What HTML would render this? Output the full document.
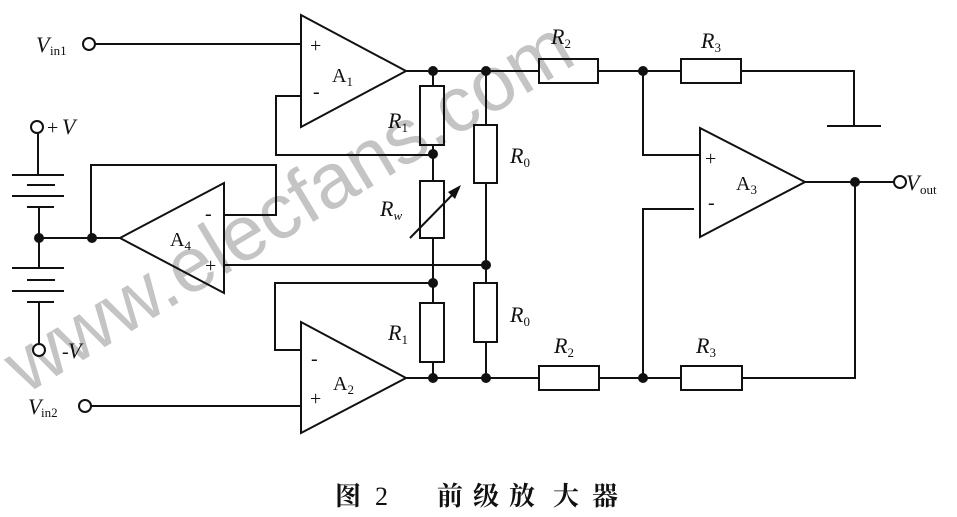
<!DOCTYPE html>
<html><head><meta charset="utf-8"><style>
html,body{margin:0;padding:0;background:#fff;}
svg{display:block;}
.t{font-family:"Liberation Serif",serif;font-style:italic;font-size:22px;fill:#111;}
.s{font-family:"Liberation Serif",serif;font-size:13px;fill:#111;}
.n{font-family:"Liberation Serif",serif;font-size:20px;fill:#111;}
</style></head><body>
<svg width="957" height="517" viewBox="0 0 957 517" xmlns="http://www.w3.org/2000/svg">
<rect width="957" height="517" fill="#fff"/>
<text x="0" y="0" transform="translate(25,395) rotate(-31)" font-family="Liberation Sans,sans-serif" font-size="78" fill="#c4c4c4">www.elecfans.com</text>
<g stroke="#111" stroke-width="2" fill="none">
<!-- A1 -->
<polygon points="301,15 301,127 406,71" fill="none"/>
<line x1="95" y1="44" x2="301" y2="44"/>
<circle cx="89" cy="44" r="6" fill="#fff"/>
<line x1="406" y1="71" x2="539" y2="71"/>
<polyline points="301,96 276,96 276,155 433,155"/>
<line x1="433" y1="71" x2="433" y2="86"/>
<rect x="420" y="86" width="24" height="59"/>
<line x1="433" y1="145" x2="433" y2="181"/>
<rect x="420" y="181" width="24" height="57"/>
<line x1="410" y1="238" x2="459" y2="188"/>
<line x1="433" y1="238" x2="433" y2="303"/>
<rect x="420" y="303" width="24" height="59"/>
<line x1="433" y1="362" x2="433" y2="378"/>
<!-- A2 -->
<polygon points="301,322 301,433 406,378"/>
<line x1="91" y1="406" x2="301" y2="406"/>
<circle cx="85" cy="406" r="6" fill="#fff"/>
<polyline points="301,350 275,350 275,283 433,283"/>
<line x1="406" y1="378" x2="539" y2="378"/>
<!-- R0 column -->
<line x1="486" y1="71" x2="486" y2="125"/>
<rect x="474" y="125" width="23" height="58"/>
<line x1="486" y1="183" x2="486" y2="283"/>
<rect x="474" y="283" width="23" height="59"/>
<line x1="486" y1="342" x2="486" y2="378"/>
<!-- A4 -->
<polygon points="120,238 224,183 224,293"/>
<polyline points="224,215 276,215 276,165 91,165 91,238"/>
<line x1="224" y1="265" x2="486" y2="265"/>
<line x1="39" y1="238" x2="120" y2="238"/>
<!-- batteries -->
<circle cx="37" cy="127" r="6" fill="#fff"/>
<line x1="38" y1="133" x2="38" y2="175"/>
<line x1="12" y1="175" x2="64" y2="175"/>
<line x1="27" y1="185" x2="55" y2="185"/>
<line x1="12" y1="196" x2="64" y2="196"/>
<line x1="27" y1="207" x2="54" y2="207"/>
<line x1="39" y1="207" x2="39" y2="268"/>
<line x1="12" y1="268" x2="64" y2="268"/>
<line x1="27" y1="280" x2="55" y2="280"/>
<line x1="12" y1="291" x2="64" y2="291"/>
<line x1="27" y1="302" x2="54" y2="302"/>
<line x1="39" y1="302" x2="39" y2="344"/>
<circle cx="39" cy="350" r="6" fill="#fff"/>
<!-- right side -->
<rect x="539" y="59" width="59" height="24"/>
<line x1="598" y1="71" x2="681" y2="71"/>
<rect x="681" y="59" width="60" height="24"/>
<polyline points="741,71 854,71 854,126"/>
<line x1="827" y1="126" x2="881" y2="126"/>
<polygon points="700,128 700,237 805,182"/>
<polyline points="643,71 643,155 700,155"/>
<polyline points="694,209 643,209 643,378"/>
<line x1="805" y1="182" x2="894" y2="182"/>
<circle cx="900" cy="182" r="6" fill="#fff"/>
<rect x="539" y="366" width="60" height="24"/>
<line x1="599" y1="378" x2="681" y2="378"/>
<rect x="681" y="366" width="61" height="24"/>
<polyline points="742,378 855,378 855,182"/>
</g>
<polygon points="461,185 448,192 455,199" fill="#111"/>
<g fill="#111">
<circle cx="433" cy="71" r="5"/><circle cx="433" cy="154" r="5"/><circle cx="433" cy="283" r="5"/><circle cx="433" cy="378" r="5"/>
<circle cx="486" cy="71" r="5"/><circle cx="486" cy="265" r="5"/><circle cx="486" cy="378" r="5"/>
<circle cx="92" cy="238" r="5"/><circle cx="39" cy="238" r="5"/>
<circle cx="643" cy="71" r="5"/><circle cx="643" cy="378" r="5"/><circle cx="855" cy="182" r="5"/>
</g>
<!-- labels -->
<text class="t" x="36" y="52">V</text><text class="s" x="50" y="55">in1</text>
<text class="t" x="28" y="414">V</text><text class="s" x="41" y="417">in2</text>
<text class="n" x="47" y="134" font-size="20">+</text><text class="t" x="62" y="134">V</text>
<text class="n" x="62" y="358">-</text><text class="t" x="68" y="358">V</text>
<text class="t" x="906" y="190">V</text><text class="s" x="920" y="194">out</text>
<g class="n" font-size="16"><text x="310" y="52">+</text><text x="313" y="98">-</text>
<text x="311" y="365">-</text><text x="310" y="405">+</text>
<text x="205" y="220">-</text><text x="205" y="272">+</text>
<text x="705" y="165">+</text><text x="708" y="209">-</text></g>
<text class="n" x="332" y="82">A<tspan font-size="13" dy="4">1</tspan></text>
<text class="n" x="333" y="390">A<tspan font-size="13" dy="4">2</tspan></text>
<text class="n" x="736" y="190">A<tspan font-size="13" dy="4">3</tspan></text>
<text class="n" x="170" y="246">A<tspan font-size="13" dy="4">4</tspan></text>
<text class="t" x="388" y="128">R<tspan class="s" font-style="normal" dy="4">1</tspan></text>
<text class="t" x="380" y="216">R<tspan class="s" font-style="italic" dy="4">w</tspan></text>
<text class="t" x="388" y="340">R<tspan class="s" font-style="normal" dy="4">1</tspan></text>
<text class="t" x="510" y="163">R<tspan class="s" font-style="normal" dy="4">0</tspan></text>
<text class="t" x="510" y="322">R<tspan class="s" font-style="normal" dy="4">0</tspan></text>
<text class="t" x="551" y="44">R<tspan class="s" font-style="normal" dy="4">2</tspan></text>
<text class="t" x="701" y="48">R<tspan class="s" font-style="normal" dy="4">3</tspan></text>
<text class="t" x="554" y="353">R<tspan class="s" font-style="normal" dy="4">2</tspan></text>
<text class="t" x="696" y="353">R<tspan class="s" font-style="normal" dy="4">3</tspan></text>
<g font-family="Liberation Serif,'Noto Serif CJK SC',serif" font-size="26" font-weight="bold" fill="#111">
<text x="335" y="505">图</text><text x="375" y="505" font-weight="normal">2</text>
<text x="437" y="505">前</text><text x="473" y="505">级</text><text x="509" y="505">放</text><text x="553" y="505">大</text><text x="592" y="505">器</text>
</g>
</svg>
</body></html>
